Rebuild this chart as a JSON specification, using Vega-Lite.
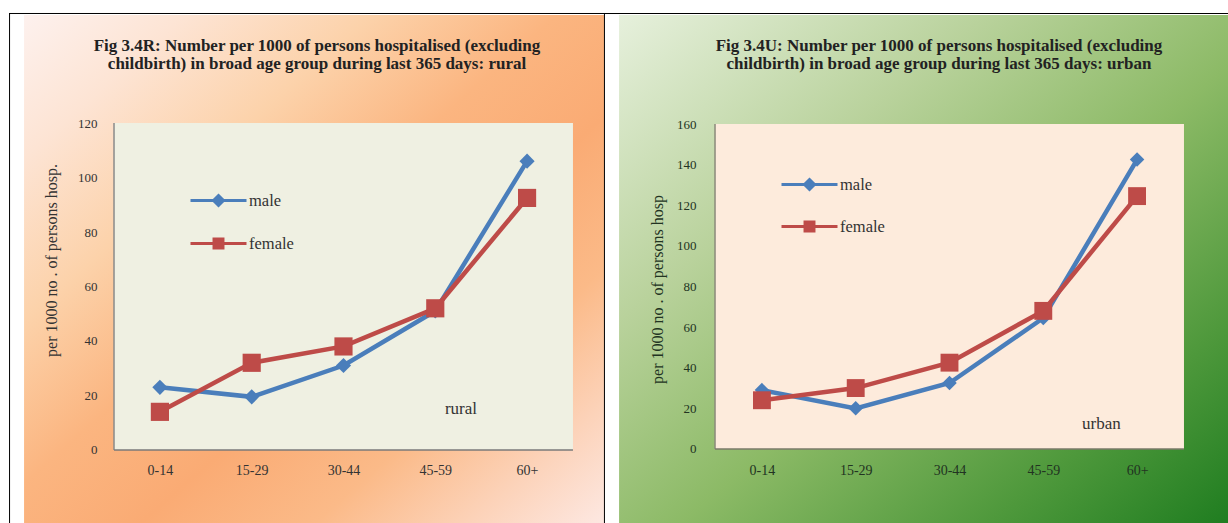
{
  "$schema": "https://vega.github.io/schema/vega-lite/v6.json",
  "padding": {"left": 8, "top": 12, "right": 0, "bottom": 0},
  "background": "white",
  "spacing": 0,
  "bounds": "flush",
  "config": {"view": {"stroke": null}},
  "data": {"values": [
    {"area": "rural", "age": "0-14", "idx": 0, "sex": "male", "value": 23},
    {"area": "rural", "age": "15-29", "idx": 1, "sex": "male", "value": 19.5},
    {"area": "rural", "age": "30-44", "idx": 2, "sex": "male", "value": 31},
    {"area": "rural", "age": "45-59", "idx": 3, "sex": "male", "value": 51},
    {"area": "rural", "age": "60+", "idx": 4, "sex": "male", "value": 106},
    {"area": "rural", "age": "0-14", "idx": 0, "sex": "female", "value": 14},
    {"area": "rural", "age": "15-29", "idx": 1, "sex": "female", "value": 32},
    {"area": "rural", "age": "30-44", "idx": 2, "sex": "female", "value": 38},
    {"area": "rural", "age": "45-59", "idx": 3, "sex": "female", "value": 52},
    {"area": "rural", "age": "60+", "idx": 4, "sex": "female", "value": 92.5},
    {"area": "urban", "age": "0-14", "idx": 0, "sex": "male", "value": 29},
    {"area": "urban", "age": "15-29", "idx": 1, "sex": "male", "value": 20},
    {"area": "urban", "age": "30-44", "idx": 2, "sex": "male", "value": 32.5},
    {"area": "urban", "age": "45-59", "idx": 3, "sex": "male", "value": 64.5},
    {"area": "urban", "age": "60+", "idx": 4, "sex": "male", "value": 142.5},
    {"area": "urban", "age": "0-14", "idx": 0, "sex": "female", "value": 24},
    {"area": "urban", "age": "15-29", "idx": 1, "sex": "female", "value": 30},
    {"area": "urban", "age": "30-44", "idx": 2, "sex": "female", "value": 42.5},
    {"area": "urban", "age": "45-59", "idx": 3, "sex": "female", "value": 68},
    {"area": "urban", "age": "60+", "idx": 4, "sex": "female", "value": 124.5}
  ]},
  "resolve": {"scale": {"color": "independent"}, "legend": {"color": "independent"}},
  "hconcat": [
    {
      "width": 596,
      "height": 511,
      "title": {
        "text": ["Fig 3.4R: Number per 1000 of persons hospitalised (excluding", "childbirth) in broad age group during last 365 days: rural"],
        "anchor": "middle", "frame": "group", "orient": "top", "offset": -60, "dx": 10,
        "font": "Liberation Serif", "fontSize": 17, "fontWeight": "bold", "lineHeight": 18, "color": "#222222"
      },
      "layer": [
        {
          "data": {"values": [{}]},
          "mark": {"type": "rect", "color": {"gradient": "linear", "x1": 0, "y1": 0, "x2": 1, "y2": 1, "stops": [
            {"offset": 0, "color": "#fdf1ee"},
            {"offset": 0.14, "color": "#fde4d4"},
            {"offset": 0.3, "color": "#fcd2aa"},
            {"offset": 0.46, "color": "#fbb580"},
            {"offset": 0.6, "color": "#faab74"},
            {"offset": 0.75, "color": "#fbba88"},
            {"offset": 0.88, "color": "#fcd2b8"},
            {"offset": 1, "color": "#fde8e2"}
          ]}},
          "encoding": {
            "x": {"datum": -1.48, "type": "quantitative", "scale": {"domain": [-1.644, 4.849], "nice": false, "zero": false},
              "axis": {"values": [0, 1, 2, 3, 4], "labelExpr": "['0-14','15-29','30-44','45-59','60+'][datum.value]", "domain": false, "ticks": false, "tickSize": 0, "grid": false, "title": null, "offset": -74, "labelPadding": 13, "labelFont": "Liberation Serif", "labelFontSize": 14, "labelColor": "#333333", "zindex": 1}},
            "x2": {"datum": 4.838},
            "y": {"datum": 159.64, "type": "quantitative", "scale": {"domain": [-27.16, 160.37], "nice": false, "zero": false},
              "axis": {"values": [0, 20, 40, 60, 80, 100, 120], "domain": false, "ticks": false, "tickSize": 0, "grid": false, "offset": -88, "labelPadding": 0, "labelFont": "Liberation Serif", "labelFontSize": 13, "labelColor": "#333333",
                "title": "per 1000 no . of persons hosp.", "titleFont": "Liberation Serif", "titleFontSize": 16, "titleFontWeight": "normal", "titleColor": "#333333", "titleAngle": -90, "titleX": -46, "titleY": 247, "titleBaseline": "middle", "titleAlign": "center", "zindex": 1}},
            "y2": {"datum": -27.16}
          }
        },
        {
          "data": {"values": [{}]},
          "mark": {"type": "rule", "color": "#000000", "strokeWidth": 1},
          "encoding": {"x": {"datum": -1.638, "type": "quantitative"}}
        },
        {
          "data": {"values": [{}]},
          "mark": {"type": "rule", "color": "#000000", "strokeWidth": 1},
          "encoding": {"x": {"datum": 4.843, "type": "quantitative"}}
        },
        {
          "data": {"values": [{}]},
          "mark": {"type": "rule", "color": "#000000", "strokeWidth": 1},
          "encoding": {"y": {"datum": 160.19, "type": "quantitative"}}
        },
        {
          "data": {"values": [{}]},
          "mark": {"type": "rect", "color": "#eff0e2"},
          "encoding": {
            "x": {"datum": -0.5, "type": "quantitative"},
            "x2": {"datum": 4.5},
            "y": {"datum": 0, "type": "quantitative"},
            "y2": {"datum": 120}
          }
        },
        {
          "data": {"values": [{}]},
          "mark": {"type": "rule", "color": "#8a8a8a", "strokeWidth": 1.5},
          "encoding": {
            "x": {"datum": -0.5, "type": "quantitative"},
            "y": {"datum": 0, "type": "quantitative"},
            "y2": {"datum": 120}
          }
        },
        {
          "data": {"values": [{}]},
          "mark": {"type": "rule", "color": "#7a7a7a", "strokeWidth": 1.5},
          "encoding": {
            "x": {"datum": -0.5, "type": "quantitative"},
            "x2": {"datum": 4.5},
            "y": {"datum": 0, "type": "quantitative"}
          }
        },
        {
          "data": {"values": [{}]},
          "mark": {"type": "text", "text": "rural", "font": "Liberation Serif", "fontSize": 17, "color": "#333333"},
          "encoding": {
            "x": {"datum": 3.28, "type": "quantitative"},
            "y": {"datum": 15, "type": "quantitative"}
          }
        },
        {
          "transform": [{"filter": "datum.area === 'rural'"}],
          "mark": {"type": "line", "strokeWidth": 4.5},
          "encoding": {
            "x": {"field": "idx", "type": "quantitative"},
            "y": {"field": "value", "type": "quantitative"},
            "color": {"field": "sex", "type": "nominal", "scale": {"domain": ["male", "female"], "range": ["#4a7ebb", "#be4b48"]},
              "legend": {"orient": "none", "legendX": 180, "legendY": 178, "title": null, "padding": 0, "rowPadding": 21, "labelFont": "Liberation Serif", "labelFontSize": 16.5, "labelColor": "#333333", "labelOffset": 41, "symbolSize": 256, "symbolStrokeWidth": 3,
                "encode": {"symbols": {"update": {
                  "shape": {"signal": "datum.value === 'male' ? 'M-1,0H6M2.5,-0.62L3.12,0L2.5,0.62L1.88,0Z' : 'M-1,0H6M1.94,-0.56H3.06V0.56H1.94Z'"},
                  "fill": {"signal": "datum.value === 'male' ? '#4a7ebb' : '#be4b48'"},
                  "stroke": {"signal": "datum.value === 'male' ? '#4a7ebb' : '#be4b48'"},
                  "strokeWidth": {"value": 3},
                  "opacity": {"value": 1}
                }}}}}
          }
        },
        {
          "transform": [{"filter": "datum.area === 'rural' && datum.sex === 'male'"}],
          "mark": {"type": "point", "shape": "diamond", "size": 230, "filled": true, "opacity": 1},
          "encoding": {
            "x": {"field": "idx", "type": "quantitative"},
            "y": {"field": "value", "type": "quantitative"},
            "color": {"field": "sex", "type": "nominal", "legend": null}
          }
        },
        {
          "transform": [{"filter": "datum.area === 'rural' && datum.sex === 'female'"}],
          "mark": {"type": "point", "shape": "square", "size": 330, "filled": true, "opacity": 1},
          "encoding": {
            "x": {"field": "idx", "type": "quantitative"},
            "y": {"field": "value", "type": "quantitative"},
            "color": {"field": "sex", "type": "nominal", "legend": null}
          }
        }
      ]
    },
    {
      "width": 624,
      "height": 511,
      "title": {
        "text": ["Fig 3.4U: Number per 1000 of persons hospitalised (excluding", "childbirth) in broad age group during last 365 days: urban"],
        "anchor": "middle", "frame": "group", "orient": "top", "offset": -60, "dx": 22,
        "font": "Liberation Serif", "fontSize": 17, "fontWeight": "bold", "lineHeight": 18, "color": "#222222"
      },
      "layer": [
        {
          "data": {"values": [{}]},
          "mark": {"type": "rect", "color": {"gradient": "linear", "x1": 0, "y1": 0, "x2": 1, "y2": 1, "stops": [
            {"offset": 0, "color": "#e6f0dc"},
            {"offset": 0.3, "color": "#b9d29c"},
            {"offset": 0.55, "color": "#8cba66"},
            {"offset": 0.8, "color": "#4f993c"},
            {"offset": 1, "color": "#1f7d20"}
          ]}},
          "encoding": {
            "x": {"datum": -1.523, "type": "quantitative", "scale": {"domain": [-1.673, 4.98], "nice": false, "zero": false},
              "axis": {"values": [0, 1, 2, 3, 4], "labelExpr": "['0-14','15-29','30-44','45-59','60+'][datum.value]", "domain": false, "ticks": false, "tickSize": 0, "grid": false, "title": null, "offset": -75, "labelPadding": 14, "labelFont": "Liberation Serif", "labelFontSize": 14, "labelColor": "#223322", "zindex": 1}},
            "x2": {"datum": 4.98},
            "y": {"datum": 213.66, "type": "quantitative", "scale": {"domain": [-36.93, 214.65], "nice": false, "zero": false},
              "axis": {"values": [0, 20, 40, 60, 80, 100, 120, 140, 160], "domain": false, "ticks": false, "tickSize": 0, "grid": false, "offset": -91, "labelPadding": 0, "labelFont": "Liberation Serif", "labelFontSize": 13, "labelColor": "#223322",
                "title": "per 1000 no . of persons hosp", "titleFont": "Liberation Serif", "titleFontSize": 16, "titleFontWeight": "normal", "titleColor": "#223322", "titleAngle": -90, "titleX": -39, "titleY": 276, "titleBaseline": "middle", "titleAlign": "center", "zindex": 1}},
            "y2": {"datum": -36.93}
          }
        },
        {
          "data": {"values": [{}]},
          "mark": {"type": "rule", "color": "#000000", "strokeWidth": 1},
          "encoding": {"y": {"datum": 214.4, "type": "quantitative"}}
        },
        {
          "data": {"values": [{}]},
          "mark": {"type": "rect", "color": "#fdebdc"},
          "encoding": {
            "x": {"datum": -0.5, "type": "quantitative"},
            "x2": {"datum": 4.5},
            "y": {"datum": 0, "type": "quantitative"},
            "y2": {"datum": 160}
          }
        },
        {
          "data": {"values": [{}]},
          "mark": {"type": "rule", "color": "#8a8a7a", "strokeWidth": 1.5},
          "encoding": {
            "x": {"datum": -0.5, "type": "quantitative"},
            "y": {"datum": 0, "type": "quantitative"},
            "y2": {"datum": 160}
          }
        },
        {
          "data": {"values": [{}]},
          "mark": {"type": "rule", "color": "#7a7a6a", "strokeWidth": 1.5},
          "encoding": {
            "x": {"datum": -0.5, "type": "quantitative"},
            "x2": {"datum": 4.5},
            "y": {"datum": 0, "type": "quantitative"}
          }
        },
        {
          "data": {"values": [{}]},
          "mark": {"type": "text", "text": "urban", "font": "Liberation Serif", "fontSize": 17, "color": "#333333"},
          "encoding": {
            "x": {"datum": 3.62, "type": "quantitative"},
            "y": {"datum": 12.3, "type": "quantitative"}
          }
        },
        {
          "transform": [{"filter": "datum.area === 'urban'"}],
          "mark": {"type": "line", "strokeWidth": 4.5},
          "encoding": {
            "x": {"field": "idx", "type": "quantitative"},
            "y": {"field": "value", "type": "quantitative"},
            "color": {"field": "sex", "type": "nominal", "scale": {"domain": ["male", "female"], "range": ["#4a7ebb", "#be4b48"]},
              "legend": {"orient": "none", "legendX": 175, "legendY": 162, "title": null, "padding": 0, "rowPadding": 20, "labelFont": "Liberation Serif", "labelFontSize": 16.5, "labelColor": "#333333", "labelOffset": 41, "symbolSize": 256, "symbolStrokeWidth": 3,
                "encode": {"symbols": {"update": {
                  "shape": {"signal": "datum.value === 'male' ? 'M-1,0H6M2.5,-0.62L3.12,0L2.5,0.62L1.88,0Z' : 'M-1,0H6M1.94,-0.56H3.06V0.56H1.94Z'"},
                  "fill": {"signal": "datum.value === 'male' ? '#4a7ebb' : '#be4b48'"},
                  "stroke": {"signal": "datum.value === 'male' ? '#4a7ebb' : '#be4b48'"},
                  "strokeWidth": {"value": 3},
                  "opacity": {"value": 1}
                }}}}}
          }
        },
        {
          "transform": [{"filter": "datum.area === 'urban' && datum.sex === 'male'"}],
          "mark": {"type": "point", "shape": "diamond", "size": 210, "filled": true, "opacity": 1},
          "encoding": {
            "x": {"field": "idx", "type": "quantitative"},
            "y": {"field": "value", "type": "quantitative"},
            "color": {"field": "sex", "type": "nominal", "legend": null}
          }
        },
        {
          "transform": [{"filter": "datum.area === 'urban' && datum.sex === 'female'"}],
          "mark": {"type": "point", "shape": "square", "size": 320, "filled": true, "opacity": 1},
          "encoding": {
            "x": {"field": "idx", "type": "quantitative"},
            "y": {"field": "value", "type": "quantitative"},
            "color": {"field": "sex", "type": "nominal", "legend": null}
          }
        }
      ]
    }
  ]
}
